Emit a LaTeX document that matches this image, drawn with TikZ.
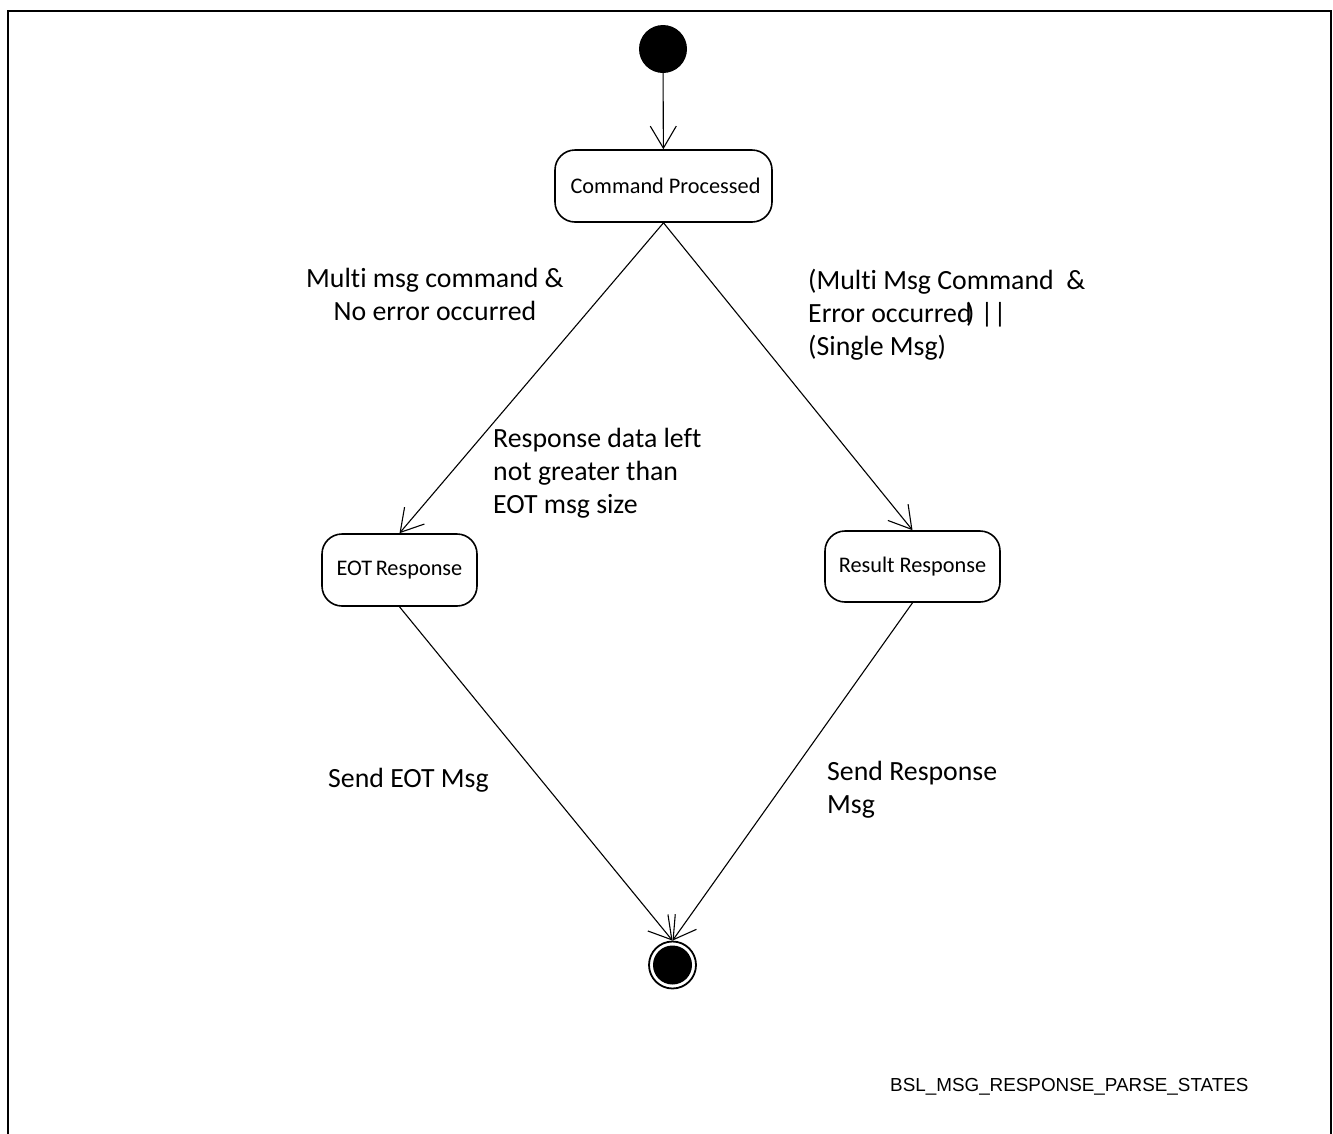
\documentclass[tikz,border=0pt]{standalone}
\usepackage{fontspec}
\setmainfont{Carlito}[Ligatures=NoCommon]
\newfontfamily\capfont{Liberation Sans}
\usetikzlibrary{arrows.meta}
\begin{document}
\begin{tikzpicture}[x=1pt,y=-1pt,
  state/.style={draw,line width=1.6pt,rounded corners=20pt,inner sep=0pt,
    font=\fontsize{22.3}{26}\selectfont},
  flow/.style={line width=1.1pt,
    -{Straight Barb[length=22pt,width=26pt,line width=1.1pt]}},
  guard/.style={inner sep=0pt,font=\fontsize{27.8}{33}\selectfont},
]
\useasboundingbox (0,0) rectangle (1333,1133);
% outer frame
\draw[line width=2pt] (8,1140) -- (8,11) -- (1331,11) -- (1331,1140);

% states
\node[circle,fill=black,minimum size=48pt,inner sep=0pt] (init) at (663,49) {};
\node[state,minimum width=217pt,minimum height=72pt] (cp) at (663.5,186) {\hspace{4pt}Command Processed};
\node[state,minimum width=155pt,minimum height=72pt] (eot) at (399.5,570) {EOT\hspace{-1.5pt} Response};
\node[state,minimum width=175pt,minimum height=71pt] (res) at (912.5,566.5) {Result Response};
\node[circle,draw,line width=1.8pt,minimum size=47pt,inner sep=0pt] (final) at (672.5,965) {};
\fill (final.center) circle (19.5pt);

% transitions
\draw[flow] (init) -- (cp);
\draw[flow] (cp.south) -- (eot.north);
\draw[flow] (cp.south) -- (res.north);
\draw[flow] (eot.south) -- (final.north);
\draw[flow] (res.south) -- (final.north);

% guards
\node[guard,anchor=base] (g1) at (435,287)
  {\begin{tabular}[t]{@{}c@{}}Multi msg command \&\\No error occurred\end{tabular}};
\node[guard,anchor=base west] (g2) at (808,289)
  {\begin{tabular}[t]{@{}l@{}}(Multi Msg Command~~\&\\Error occurred\kern-0.2em)~||\\(Single Msg)\end{tabular}};
\node[guard,anchor=base west] (g3) at (493,447)
  {\begin{tabular}[t]{@{}l@{}}Response data left\\not greater than\\EOT msg size\end{tabular}};
\node[guard,anchor=base west] (g4) at (328,787) {Send EOT Msg};
\node[guard,anchor=base west] (g5) at (827,780)
  {\begin{tabular}[t]{@{}l@{}}Send Response\\Msg\end{tabular}};

% caption
\node[inner sep=0pt,anchor=base west,font=\capfont\fontsize{18.85}{22}\selectfont] (cap) at (890,1091)
  {BSL\_MSG\_RESPONSE\_PARSE\_STATES};
\end{tikzpicture}
\end{document}
